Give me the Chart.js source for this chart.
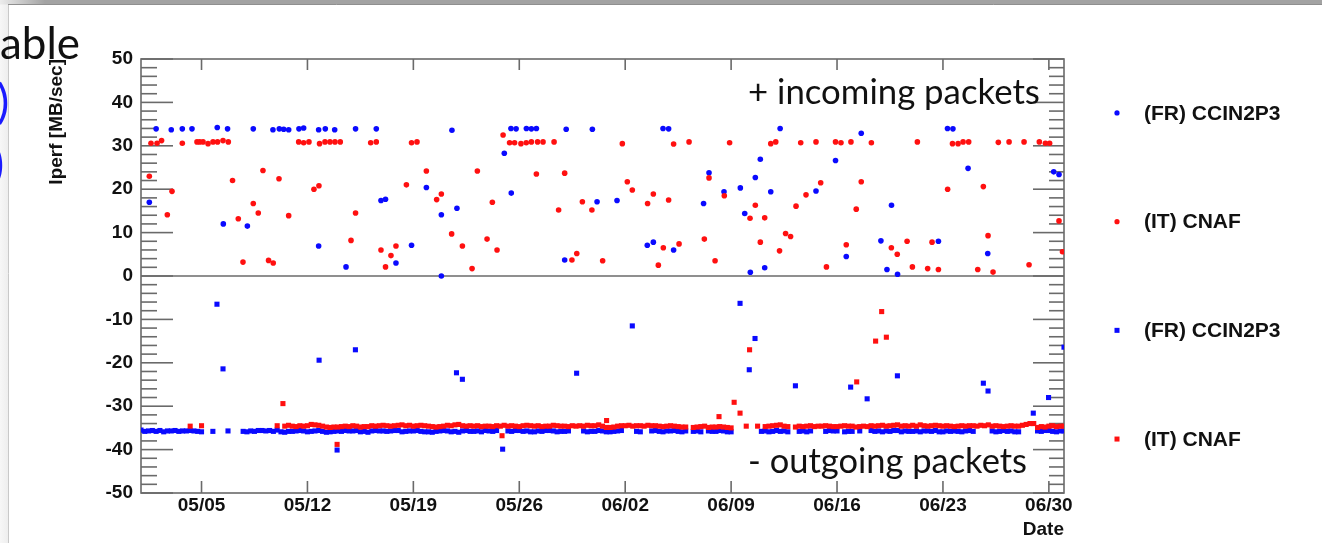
<!DOCTYPE html>
<html>
<head>
<meta charset="utf-8">
<script src="https://cdn.jsdelivr.net/npm/chart.js@4.4.0/dist/chart.umd.min.js"></script>
<style>
html,body{margin:0;padding:0;background:#fff;overflow:hidden;}
#wrap{position:relative;width:1322px;height:543px;}
</style>
</head>
<body>
<div id="wrap"><canvas id="c" width="1322" height="543"></canvas></div>
<script>
// ---------------- DATA ----------------
// x values are days since 05/01 00:00
const tickDays   = [4, 11, 18, 25, 32, 39, 46, 53, 60];
const tickLabels = ['05/05','05/12','05/19','05/26','06/02','06/09','06/16','06/23','06/30'];
const yTickValues = [-50,-40,-30,-20,-10,0,10,20,30,40,50];

const seriesNames = ['(FR) CCIN2P3', '(IT) CNAF', '(FR) CCIN2P3', '(IT) CNAF'];

// incoming (+) FR CCIN2P3
const inFrDays = [0.55,1.0,2.0,2.73,3.37,5.04,5.72,5.44,7.03,7.42,8.72,9.14,9.43,9.76,10.44,10.75,11.74,12.18,12.8,11.74,13.55,14.18,15.55,15.86,16.16,16.85,17.88,18.86,19.85,19.85,20.55,20.88,24.01,24.45,24.47,24.79,25.47,25.8,26.13,28.0,28.1,29.83,30.14,31.46,33.46,33.86,34.5,34.87,35.2,37.18,37.54,38.53,39.61,39.9,40.27,40.6,40.93,41.22,41.62,42.24,44.61,45.9,46.61,47.6,48.9,49.3,49.6,50.0,52.7,53.3,53.66,54.66,55.96,60.32,60.67];
const inFrVals = [17.0,33.9,33.7,33.9,33.9,34.2,33.9,12.0,11.5,33.9,33.7,33.9,33.8,33.7,33.9,34.1,33.7,33.9,33.7,6.9,2.1,33.9,33.9,17.4,17.7,3.0,7.1,20.4,14.1,0.0,33.6,15.6,28.3,34.0,19.1,33.9,34.0,33.9,34.0,3.7,33.8,33.8,17.1,17.4,7.1,7.8,34.0,33.9,6.0,16.7,23.8,19.4,20.3,14.4,0.85,22.7,26.9,1.9,19.4,34.0,19.6,26.6,4.5,32.9,8.1,1.5,16.3,0.4,8.0,34.0,33.9,24.8,5.2,24.0,23.4];

// incoming (+) IT CNAF
const inItDays = [0.55,0.66,1.06,1.36,1.74,2.05,2.73,3.70,3.88,4.1,4.43,4.76,5.06,5.42,5.77,6.05,6.43,6.74,7.42,7.75,8.06,8.43,8.74,9.12,9.76,10.42,10.75,11.1,11.43,11.76,11.8,12.16,12.49,12.82,13.17,13.88,14.18,15.18,15.55,15.86,16.16,16.52,16.85,17.54,17.88,18.24,18.86,19.54,19.85,20.53,21.24,21.88,22.23,22.87,23.22,23.53,23.93,24.36,24.69,25.11,25.46,25.8,26.13,26.21,26.57,27.3,27.6,28.0,28.48,28.8,29.17,29.8,30.51,31.81,32.14,32.47,33.48,33.86,34.19,34.52,34.87,35.2,35.56,36.22,37.23,37.54,37.94,38.55,38.9,40.25,40.6,40.93,41.22,41.62,41.95,42.2,42.6,42.93,43.29,43.6,43.95,44.61,44.92,45.3,45.9,46.26,46.61,46.92,47.27,47.6,48.27,49.59,49.98,50.63,50.98,51.31,51.99,52.28,52.7,53.31,53.63,54.0,54.33,54.7,55.3,55.67,55.98,56.31,56.66,57.37,58.36,58.69,59.37,59.77,60.05,60.67,60.9];
const inItVals = [23.0,30.6,30.6,31.2,14.1,19.5,30.6,30.9,30.9,30.9,30.5,30.9,30.9,31.2,30.9,22.0,13.2,3.2,16.7,14.5,24.3,3.6,3.0,22.4,13.9,30.9,30.7,30.9,20.0,20.8,30.5,30.9,30.9,30.9,30.9,8.2,14.5,30.7,30.9,6.0,2.1,4.7,6.9,21.0,30.7,30.9,24.2,17.6,18.9,9.7,6.9,1.7,24.2,8.5,17.0,6.0,32.5,30.7,30.7,30.5,30.7,30.9,23.5,30.9,30.9,30.9,15.2,23.7,3.7,5.2,17.1,15.2,3.5,30.5,21.7,19.8,16.7,18.9,2.5,6.5,17.5,30.4,7.4,30.9,8.5,22.6,3.5,18.5,30.7,13.3,16.3,7.8,13.4,30.5,30.9,5.8,9.8,9.1,16.1,30.7,18.7,30.9,21.5,2.1,30.9,30.7,7.2,30.9,15.4,21.7,30.7,6.5,5.0,8.0,2.1,30.9,1.7,7.8,1.5,20.0,30.5,30.5,30.9,30.9,1.5,20.6,9.3,0.9,30.8,30.9,30.9,2.6,30.9,30.6,30.6,12.7,5.6];

// outgoing (-): regular samples every 6 hours from 05/01 00:00 (null = no measurement); one row per day
const outSampleHours = 6;
const outFrBand = [
-35.5,-35.8,-35.7,-35.6,  -35.8,-35.6,-35.9,-35.7,  -35.7,-35.6,-35.8,-35.7,  -35.7,-35.6,-35.7,-35.8,
-35.9,null,null,-35.8,    null,null,null,-35.7,     null,null,null,-35.8,     -35.9,-35.7,-35.8,-35.6,
-35.6,-35.7,-35.6,-35.8,  -35.5,-35.9,-36.0,-35.8,  -35.8,-35.7,-35.6,-35.7,  -35.9,-35.8,-35.7,-35.6,
-35.8,-36.0,-35.9,-35.8,  -35.7,-35.8,-35.6,-35.7,  -35.7,-35.6,-35.9,-35.8,  -36.0,-35.7,-35.6,-35.7,
-35.7,-35.8,-35.7,-35.6,  -35.6,-35.9,-35.8,-35.7,  -35.7,-35.6,-35.8,-35.9,  -35.9,-36.0,-35.8,-35.7,
-35.6,-35.7,-35.9,-35.8,  -36.0,-35.7,-35.6,-35.8,  -35.8,-35.7,-35.9,-35.6,  -35.7,-35.8,-35.6,null,
null,-35.7,-35.8,-35.6,   -35.6,-35.8,-35.7,-35.9,  -35.9,-35.7,-35.8,-35.6,  -35.6,-35.7,-35.9,-35.8,
-35.8,-35.7,null,null,    null,-35.7,-35.9,-35.8,   -35.8,-35.6,-35.7,-35.9,  -35.9,-35.8,-35.7,-35.6,
null,null,null,-35.8,     -35.9,null,null,-35.7,    -35.6,-35.8,-35.9,-35.7,  -35.7,-35.6,-35.8,-35.9,
-35.7,null,-35.8,-35.7,   -35.9,null,-35.7,-35.8,   -35.8,-35.6,-35.7,-35.9,  -35.9,null,null,null,
null,null,null,null,      -35.8,-35.7,-35.9,-35.8,  -35.6,-35.8,-35.7,-35.9,  null,null,-35.8,-35.7,
-35.9,-35.7,null,null,    null,-35.8,-35.6,-35.7,   -35.7,null,-35.9,-35.8,   -35.8,null,-35.7,null,
null,-35.6,-35.8,-35.7,   -35.9,-35.7,-35.8,-35.6,  -35.6,-35.9,-35.7,-35.8,  -35.8,-35.7,-35.9,-35.7,
-35.7,-35.8,-35.6,-35.9,  -35.9,-35.7,-35.8,-35.7,  -35.8,-35.9,-35.7,-35.6,  -35.8,null,null,null,
null,-35.7,-35.9,-35.8,   -35.6,-35.8,-35.7,-35.9,  -35.9,null,null,null,     null,-35.7,-35.8,-35.6,
-35.6,-35.8,-35.9,-35.7,
-35.7
];
const outItBand = [
null,null,null,null,      null,null,null,null,      null,null,null,null,      null,-34.6,null,null,
-34.5,null,null,null,     null,null,null,null,      null,null,null,null,      null,null,null,null,
null,null,null,null,      -34.5,null,-34.6,-34.4,   -34.6,-34.7,-34.5,-34.6,  -34.5,-34.2,-34.3,-34.4,
-34.6,-34.8,-34.9,-34.8,  -34.8,-34.7,-34.6,-34.7,  -34.5,-34.6,-34.8,-34.7,  -34.7,-34.5,-34.6,-34.5,
-34.4,-34.5,-34.6,-34.5,  -34.4,-34.3,-34.5,-34.4,  -34.6,-34.5,-34.4,-34.5,  -34.6,-34.7,-34.8,-34.7,
-34.6,-34.4,-34.5,-34.3,  -34.2,-34.5,-34.6,-34.5,  -34.6,-34.5,-34.7,-34.6,  -34.6,-34.7,-34.5,-34.6,
-34.4,-34.6,-34.5,-34.6,  -34.7,-34.5,-34.4,-34.5,  -34.6,-34.5,-34.7,-34.6,  -34.6,-34.4,-34.5,-34.6,
-34.6,-34.7,-34.5,-34.6,  -34.5,-34.6,-34.4,-34.5,  -34.5,-34.3,-34.6,-34.9,  -34.9,-34.8,-34.6,-34.5,
-34.5,-34.4,-34.6,-34.5,  -34.5,-34.6,-34.4,-34.5,  -34.5,-34.6,-34.7,-34.6,  -34.5,-34.6,-34.7,-34.8,
-34.8,null,-34.9,-34.8,   -34.7,-34.6,-34.9,-34.8,  -34.8,-34.7,-34.8,-34.9,  -35.0,null,null,null,
-34.6,null,null,-34.6,    null,-34.7,-34.6,-34.5,   -34.4,-34.3,-34.6,-34.7,  null,-34.8,-34.6,-34.7,
-34.6,-34.5,-34.7,-34.6,  -34.6,-34.5,-34.6,-34.7,  -34.7,-34.6,-34.5,-34.6,  -34.6,-34.8,-34.7,-34.6,
-34.7,-34.5,-34.6,-34.5,  -34.4,-34.6,-34.5,-34.4,  -34.3,-34.6,-34.5,-34.6,  -34.4,-34.6,-34.3,-34.5,
-34.6,-34.5,-34.4,-34.5,  -34.6,-34.5,-34.6,-34.7,  -34.6,-34.5,-34.6,-34.5,  -34.5,-34.6,-34.4,-34.5,
-34.3,-34.6,-34.5,-34.6,  -34.7,-34.6,-34.5,-34.6,  -34.6,-34.4,-34.2,-34.0,  -34.0,-34.9,-34.7,-34.8,
-34.6,-34.5,-34.7,-34.6,
-34.6
];
// outgoing isolated measurements away from the main band
const outFrSpikeDays = [5.02,5.42,11.77,12.96,14.17,20.85,21.24,23.9,28.79,32.47,39.59,40.2,40.58,43.25,46.9,47.99,49.99,55.67,55.98,58.97,59.98,61.0];
const outFrSpikeVals = [-6.5,-21.4,-19.4,-40.1,-17.0,-22.3,-23.8,-39.9,-22.4,-11.5,-6.3,-21.6,-14.4,-25.3,-25.6,-28.3,-23.0,-24.7,-26.5,-31.6,-28.0,-16.4];
const outItSpikeDays = [9.38,12.96,23.86,30.77,38.2,39.2,39.59,40.22,47.3,48.55,48.95,49.26];
const outItSpikeVals = [-29.4,-38.8,-36.8,-33.3,-32.4,-29.1,-31.6,-17.0,-24.4,-15.0,-8.2,-14.1];

// annotation / slide texts
const annotIn = '+ incoming packets';
const annotOut = '- outgoing packets';
const slideWord = 'able';

// ---------------- BUILD ----------------
const toPts = (xs, ys) => xs.map((d, i) => ({x: d, y: ys[i]}));
const bandPts = (vals) => vals.map((v, i) => v === null ? null : {x: i * outSampleHours / 24, y: v}).filter(p => p);

const FONT = "'Liberation Sans', Arial, Helvetica, sans-serif";
const BLUE = '#0a0aff';
const RED = '#ff1010';
const FRAME = '#6a6a6a';

function line(ctx, x1, y1, x2, y2) { ctx.beginPath(); ctx.moveTo(x1, y1); ctx.lineTo(x2, y2); ctx.stroke(); }

const chromePlugin = {
  id: 'chrome',
  beforeDraw(chart) {
    const ctx = chart.ctx;
    ctx.save();
    ctx.fillStyle = '#ffffff';
    ctx.fillRect(0, 0, chart.width, chart.height);
    const lg = ctx.createLinearGradient(0, 0, 8, 0);
    lg.addColorStop(0, '#f7f7f7'); lg.addColorStop(1, '#eeeeee');
    ctx.fillStyle = lg; ctx.fillRect(0, 4, 8, chart.height);
    ctx.strokeStyle = '#c9c9c9'; ctx.lineWidth = 1;
    line(ctx, 8.5, 4, 8.5, chart.height);
    const g = ctx.createLinearGradient(0, 0, 45, 0);
    g.addColorStop(0, '#ececec'); g.addColorStop(1, '#a3a3a3');
    ctx.fillStyle = g; ctx.fillRect(0, 0, chart.width, 4.5);
    ctx.strokeStyle = '#8f8f8f'; line(ctx, 8, 4.5, chart.width, 4.5);
    ctx.restore();
  }
};

const framePlugin = {
  id: 'rootFrame',
  beforeDatasetsDraw(chart) {
    const {ctx, chartArea: a, scales: {x, y}} = chart;
    ctx.save();
    ctx.strokeStyle = FRAME; ctx.lineWidth = 1.6;
    ctx.strokeRect(a.left, a.top, a.right - a.left, a.bottom - a.top);
    const y0 = y.getPixelForValue(0);
    line(ctx, a.left, y0, a.right, y0);
    for (let v = y.min; v <= y.max + 1e-9; v += 2) {
      const py = y.getPixelForValue(v);
      const major = Math.abs(v % 10) < 1e-9;
      line(ctx, a.left, py, a.left + (major ? 32 : 16), py);
      line(ctx, a.right, py, a.right - (major ? 31 : 15), py);
    }
    for (const d of tickDays) {
      const px = x.getPixelForValue(d);
      line(ctx, px, a.bottom, px, a.bottom - 12);
      line(ctx, px, a.top, px, a.top + 11);
    }
    ctx.restore();
  }
};

const legendPlugin = {
  id: 'rootLegend',
  afterDraw(chart) {
    const {ctx, chartArea: a} = chart;
    const cy = (a.top + a.bottom) / 2;
    ctx.save();
    chart.data.datasets.forEach((ds, i) => {
      const yy = cy + (i - 1.5) * 108.7;
      ctx.fillStyle = ds.backgroundColor;
      if (ds.pointStyle === 'rect') {
        ctx.fillRect(1117 - 2.5, yy - 2.5, 5, 5);
      } else {
        ctx.beginPath(); ctx.arc(1117, yy, 2.6, 0, Math.PI * 2); ctx.fill();
      }
      ctx.fillStyle = '#111';
      ctx.font = 'bold 21px ' + FONT;
      ctx.textBaseline = 'middle';
      ctx.textAlign = 'left';
      ctx.fillText(ds.label, 1144, yy + 1);
    });
    ctx.restore();
  }
};

function fitText(ctx, text, family, targetW, baseSize) {
  ctx.font = baseSize + 'px ' + family;
  const w = ctx.measureText(text).width;
  return baseSize * targetW / w;
}

const annotPlugin = {
  id: 'annot',
  afterDraw(chart) {
    const ctx = chart.ctx;
    const fam = "Lato, 'Open Sans', sans-serif";
    ctx.save();
    ctx.fillStyle = '#111';
    ctx.textBaseline = 'alphabetic';
    ctx.textAlign = 'left';
    let s = fitText(ctx, annotIn, fam, 292, 34);
    ctx.font = s + 'px ' + fam;
    ctx.fillText(annotIn, 748, 104);
    s = fitText(ctx, annotOut, fam, 279, 34);
    ctx.font = s + 'px ' + fam;
    ctx.fillText(annotOut, 748, 473);
    s = fitText(ctx, slideWord, fam, 80, 44);
    ctx.font = s + 'px ' + fam;
    ctx.fillText(slideWord, 0, 59);
    ctx.fillStyle = '#1a1aff';
    ctx.font = '46px ' + fam;
    ctx.fillText(')', -3, 118);
    ctx.fillText(')', -8, 180);
    ctx.restore();
  }
};

const tickFont = {family: FONT, size: 19, weight: 'bold'};

new Chart(document.getElementById('c'), {
  type: 'scatter',
  data: {
    datasets: [
      {label: seriesNames[0], data: toPts(inFrDays, inFrVals), pointStyle: 'circle', pointRadius: 2.8, backgroundColor: BLUE, borderWidth: 0, order: 3},
      {label: seriesNames[1], data: toPts(inItDays, inItVals), pointStyle: 'circle', pointRadius: 2.8, backgroundColor: RED, borderWidth: 0, order: 2},
      {label: seriesNames[2], data: bandPts(outFrBand).concat(toPts(outFrSpikeDays, outFrSpikeVals)), pointStyle: 'rect', pointRadius: 3.6, backgroundColor: BLUE, borderWidth: 0, order: 4},
      {label: seriesNames[3], data: bandPts(outItBand).concat(toPts(outItSpikeDays, outItSpikeVals)), pointStyle: 'rect', pointRadius: 3.6, backgroundColor: RED, borderWidth: 0, order: 1}
    ]
  },
  options: {
    responsive: false,
    animation: false,
    events: [],
    layout: {padding: {top: 59, right: 258, bottom: 0, left: 0}},
    plugins: {legend: {display: false}, tooltip: {enabled: false}},
    scales: {
      x: {
        type: 'linear', min: 0, max: 61.0,
        grid: {display: false, drawTicks: false},
        border: {display: false},
        afterBuildTicks: (s) => { s.ticks = tickDays.map(v => ({value: v})); },
        afterFit: (s) => { s.height = 50; },
        ticks: {
          autoSkip: false, maxRotation: 0, padding: 1, color: '#111', font: tickFont,
          callback: (v) => tickLabels[tickDays.indexOf(v)]
        },
        title: {display: true, text: 'Date', align: 'end', color: '#111', font: tickFont, padding: {top: 0, bottom: 2}}
      },
      y: {
        min: -50, max: 50,
        grid: {display: false, drawTicks: false},
        border: {display: false},
        afterBuildTicks: (s) => { s.ticks = yTickValues.map(v => ({value: v})); },
        afterFit: (s) => { s.width = 141; },
        ticks: {padding: 8, color: '#111', font: tickFont, callback: (v) => String(v)},
        title: {display: true, text: 'Iperf [MB/sec]', align: 'end', color: '#111', font: tickFont, padding: {top: 45, bottom: 0}}
      }
    }
  },
  plugins: [chromePlugin, framePlugin, legendPlugin, annotPlugin]
});
</script>
</body>
</html>
